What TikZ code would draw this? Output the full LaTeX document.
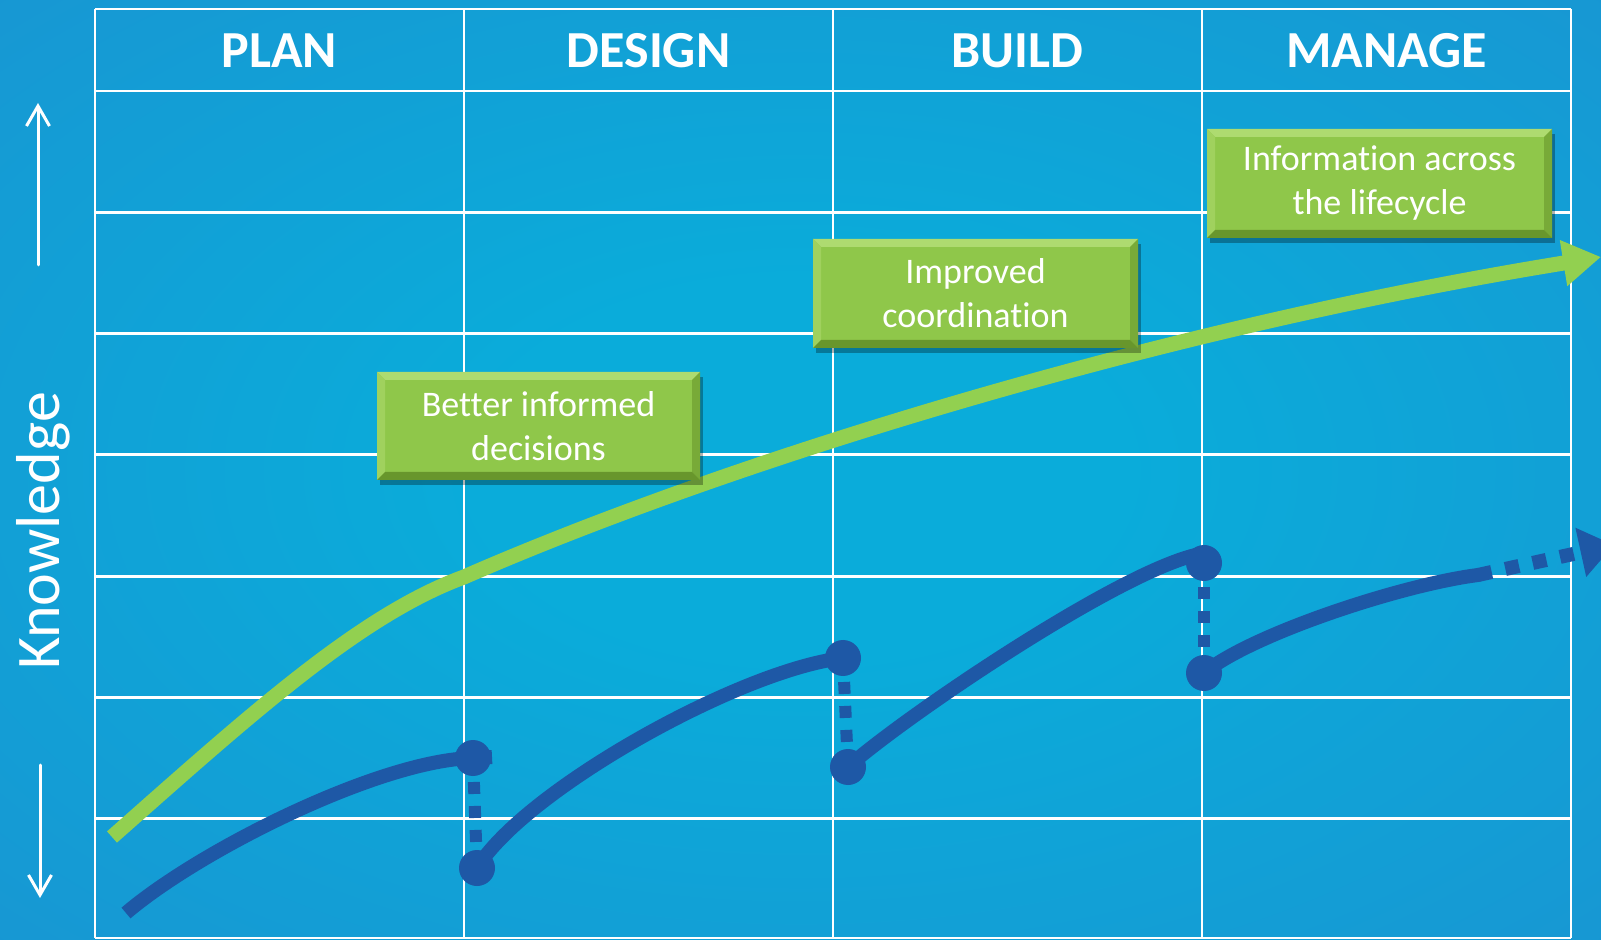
\documentclass[tikz,border=0pt]{standalone}
\usepackage{fontspec}
\setmainfont{Carlito}[Ligatures=NoCommon]
\usetikzlibrary{arrows.meta,shadows}
\definecolor{bgin}{RGB}{10,172,218}
\definecolor{bgout}{RGB}{27,146,209}
\definecolor{kgreen}{RGB}{146,208,80}
\definecolor{kblue}{RGB}{30,88,166}
\definecolor{boxface}{RGB}{143,199,74}
\definecolor{boxtop}{RGB}{174,219,112}
\definecolor{boxleft}{RGB}{160,209,94}
\definecolor{boxright}{RGB}{120,170,56}
\definecolor{boxbottom}{RGB}{104,150,44}
\pgfdeclareradialshading{bgshade}{\pgfpoint{0bp}{0bp}}{color(0bp)=(bgin); color(10bp)=(bgin); color(42bp)=(bgout); color(50bp)=(bgout)}
\begin{document}
\begin{tikzpicture}[x=0.5pt,y=-0.5pt,
  gridline/.style={white, line width=1.4pt},
  header/.style={text=white, font=\fontsize{26}{30}\selectfont\bfseries, anchor=base, inner sep=0pt},
  bevelbox/.style={fill=boxface, inner sep=0pt, text=white, align=center,
    font=\fontsize{18}{22}\selectfont,
    drop shadow={shadow xshift=1.5pt, shadow yshift=-2.5pt, opacity=0.3, fill=black},
    path picture={
      \coordinate (ppnw) at (path picture bounding box.north west);
      \coordinate (ppne) at (path picture bounding box.north east);
      \coordinate (ppsw) at (path picture bounding box.south west);
      \coordinate (ppse) at (path picture bounding box.south east);
      \fill[boxtop] (ppnw) -- (ppne) -- ([shift={(-4pt,-4pt)}]ppne) -- ([shift={(4pt,-4pt)}]ppnw) -- cycle;
      \fill[boxleft] (ppnw) -- ([shift={(4pt,-4pt)}]ppnw) -- ([shift={(4pt,4pt)}]ppsw) -- (ppsw) -- cycle;
      \fill[boxright] (ppne) -- (ppse) -- ([shift={(-4pt,4pt)}]ppse) -- ([shift={(-4pt,-4pt)}]ppne) -- cycle;
      \fill[boxbottom] (ppsw) -- (ppse) -- ([shift={(-4pt,4pt)}]ppse) -- ([shift={(4pt,4pt)}]ppsw) -- cycle;
    }},
  dot/.style={circle, fill=kblue, inner sep=0pt, minimum size=18pt},
  bluecurve/.style={draw=kblue, line width=7pt, line cap=round},
  bluedots/.style={draw=kblue, line width=6pt, dash pattern=on 6pt off 6pt},
  axisarrow/.style={white, line width=1.5pt, line cap=round, -{Straight Barb[length=10pt,width=11.5pt]}},
  greenarrow/.style={draw=kgreen, line width=7.5pt, -{Triangle[length=19pt,width=22pt]}}
]
\clip (0,0) rectangle (1601,940);
\shade[shading=bgshade] (0,0) rectangle (1601,940);

% grid
\foreach \gx in {95,464,833,1202,1571} \draw[gridline] (\gx,9) -- (\gx,938);
\foreach \gy in {9,91,212.3,333.6,454.9,576.2,697.5,818.8,938} \draw[gridline] (95,\gy) -- (1571,\gy);

% headers
\node[header] (hplan) at (279.5,68) {PLAN};
\node[header] (hdesign) at (648.5,68) {DESIGN};
\node[header] (hbuild) at (1017.5,68) {BUILD};
\node[header] (hmanage) at (1386.5,68) {MANAGE};

% axis
\node[rotate=90, anchor=base, text=white, inner sep=0pt, font=\fontsize{31}{36}\selectfont] (klabel) at (59,531) {Knowledge};
\coordinate (upfrom) at (38,265);
\coordinate (upto) at (38,103);
\coordinate (downfrom) at (40,765);
\coordinate (downto) at (40,898);
\draw[axisarrow] (upfrom) -- (upto);
\draw[axisarrow] (downfrom) -- (downto);

% green arrow
\coordinate (gstart) at (112,837);
\coordinate (gmid) at (464,577);
\coordinate (gend) at (1601,257);
\draw[greenarrow] (gstart) .. controls (250,715) and (360,615) .. (gmid)
   .. controls (720,465) and (1150,330) .. (gend);

% boxes
\node[bevelbox, minimum width=161.5pt, minimum height=54pt] (box1) at (538.5,426) {Better informed\\decisions};
\node[bevelbox, minimum width=162.5pt, minimum height=54.5pt] (box2) at (975.5,293.5) {Improved\\coordination};
\node[bevelbox, minimum width=172.5pt, minimum height=54.5pt] (box3) at (1379.5,183.5) {Information across\\the lifecycle};

% blue knowledge curves
\node[dot] (e1) at (473,758) {};
\node[dot] (s2) at (477,868) {};
\node[dot] (e2) at (843,658) {};
\node[dot] (s3) at (848,767) {};
\node[dot] (e3) at (1204,563) {};
\node[dot] (s4) at (1204,673) {};
\coordinate (c1start) at (126,913);
\coordinate (c1end) at (492,757);
\coordinate (c3end) at (1200,554);
\coordinate (e4) at (1478,575);
\coordinate (fin) at (1614,545);

\draw[bluecurve, line cap=butt] (c1start) .. controls (200,850) and (380,760) .. (e1.center) -- (c1end);
\draw[bluecurve] (s2.center) .. controls (525,790) and (740,670) .. (e2.center);
\draw[bluecurve] (s3.center) .. controls (900,720) and (1120,570) .. (c3end);
\draw[bluecurve] (s4.center) .. controls (1250,635) and (1400,585) .. (e4);

\draw[bluedots] (e1.center) -- (s2.center);
\draw[bluedots] (e2.center) -- (s3.center);
\draw[bluedots] (e3.center) -- (s4.center);
\draw[kblue, line width=7pt, dash pattern=on 7pt off 7pt, -{Triangle[length=17pt,width=24pt]}] (e4) -- (fin);
\end{tikzpicture}
\end{document}
